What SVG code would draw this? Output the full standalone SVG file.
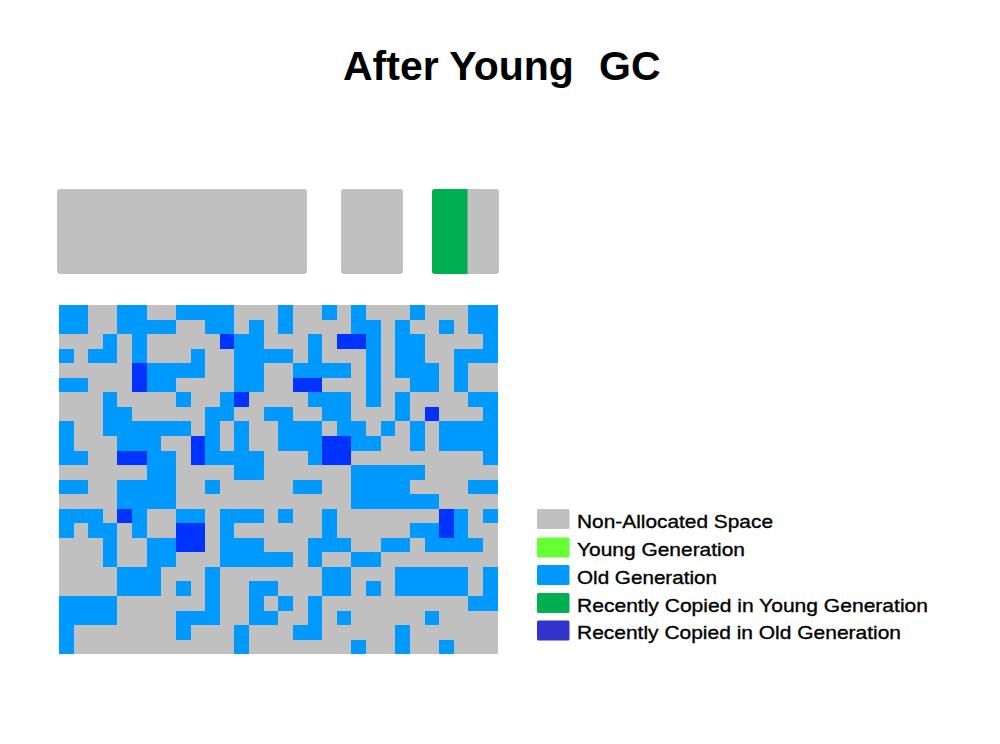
<svg xmlns="http://www.w3.org/2000/svg" width="1000" height="744" viewBox="0 0 1000 744">
<style>
.g{fill:#C0C0C0}
.b{fill:#0099FF}
.d{fill:#0033FF}
.title{font-family:"Liberation Sans",Arial,sans-serif;font-weight:bold;font-size:41px;fill:#000}
.lt{font-family:"Liberation Sans",Arial,sans-serif;font-size:19px;fill:#000;stroke:#000;stroke-width:0.35}
</style>
<defs>
<clipPath id="barclip"><rect x="432" y="189" width="67" height="85" rx="3"/></clipPath>
</defs>
<rect width="1000" height="744" fill="#FFFFFF"/>
<g id="title"><text class="title" x="343" y="80">After Young <tspan x="599">GC</tspan></text></g>
<g id="heap-bars">
<rect id="eden" class="g" x="57" y="189" width="250" height="85" rx="3"/>
<rect id="survivor-from" class="g" x="341" y="189" width="62" height="85" rx="3"/>
<g id="survivor-to" clip-path="url(#barclip)">
<rect class="g" x="432" y="189" width="67" height="85"/>
<rect x="432" y="189" width="35.5" height="85" fill="#00B050"/>
</g>
</g>
<g id="heap-grid" transform="translate(59 305) scale(14.62 14.55)" shape-rendering="crispEdges">
<rect class="g" x="0" y="0" width="30" height="24"/>
<g class="b">
<rect x="0" y="0" width="2" height="1"/><rect x="4" y="0" width="2" height="1"/><rect x="8" y="0" width="4" height="1"/><rect x="15" y="0" width="1" height="1"/><rect x="18" y="0" width="1" height="1"/><rect x="20" y="0" width="1" height="1"/><rect x="24" y="0" width="1" height="1"/><rect x="28" y="0" width="2" height="1"/>
<rect x="0" y="1" width="2" height="1"/><rect x="4" y="1" width="4" height="1"/><rect x="10" y="1" width="2" height="1"/><rect x="13" y="1" width="1" height="1"/><rect x="15" y="1" width="1" height="1"/><rect x="20" y="1" width="2" height="1"/><rect x="23" y="1" width="1" height="1"/><rect x="26" y="1" width="1" height="1"/><rect x="28" y="1" width="2" height="1"/>
<rect x="3" y="2" width="1" height="1"/><rect x="5" y="2" width="1" height="1"/><rect x="12" y="2" width="2" height="1"/><rect x="17" y="2" width="1" height="1"/><rect x="21" y="2" width="1" height="1"/><rect x="23" y="2" width="2" height="1"/><rect x="29" y="2" width="1" height="1"/>
<rect x="0" y="3" width="1" height="1"/><rect x="2" y="3" width="2" height="1"/><rect x="5" y="3" width="1" height="1"/><rect x="9" y="3" width="1" height="1"/><rect x="12" y="3" width="4" height="1"/><rect x="17" y="3" width="1" height="1"/><rect x="21" y="3" width="1" height="1"/><rect x="23" y="3" width="2" height="1"/><rect x="27" y="3" width="3" height="1"/>
<rect x="6" y="4" width="4" height="1"/><rect x="12" y="4" width="2" height="1"/><rect x="16" y="4" width="4" height="1"/><rect x="21" y="4" width="1" height="1"/><rect x="23" y="4" width="3" height="1"/><rect x="27" y="4" width="1" height="1"/>
<rect x="0" y="5" width="2" height="1"/><rect x="6" y="5" width="2" height="1"/><rect x="12" y="5" width="2" height="1"/><rect x="21" y="5" width="1" height="1"/><rect x="24" y="5" width="2" height="1"/><rect x="27" y="5" width="1" height="1"/>
<rect x="3" y="6" width="1" height="1"/><rect x="8" y="6" width="1" height="1"/><rect x="11" y="6" width="1" height="1"/><rect x="17" y="6" width="3" height="1"/><rect x="21" y="6" width="1" height="1"/><rect x="23" y="6" width="1" height="1"/><rect x="28" y="6" width="2" height="1"/>
<rect x="3" y="7" width="2" height="1"/><rect x="10" y="7" width="2" height="1"/><rect x="14" y="7" width="2" height="1"/><rect x="18" y="7" width="2" height="1"/><rect x="23" y="7" width="1" height="1"/><rect x="29" y="7" width="1" height="1"/>
<rect x="0" y="8" width="1" height="1"/><rect x="3" y="8" width="6" height="1"/><rect x="10" y="8" width="1" height="1"/><rect x="12" y="8" width="1" height="1"/><rect x="15" y="8" width="3" height="1"/><rect x="19" y="8" width="2" height="1"/><rect x="22" y="8" width="1" height="1"/><rect x="24" y="8" width="1" height="1"/><rect x="26" y="8" width="4" height="1"/>
<rect x="0" y="9" width="1" height="1"/><rect x="4" y="9" width="3" height="1"/><rect x="10" y="9" width="1" height="1"/><rect x="12" y="9" width="1" height="1"/><rect x="15" y="9" width="3" height="1"/><rect x="20" y="9" width="2" height="1"/><rect x="24" y="9" width="1" height="1"/><rect x="26" y="9" width="4" height="1"/>
<rect x="0" y="10" width="2" height="1"/><rect x="6" y="10" width="2" height="1"/><rect x="10" y="10" width="4" height="1"/><rect x="17" y="10" width="1" height="1"/><rect x="29" y="10" width="1" height="1"/>
<rect x="6" y="11" width="2" height="1"/><rect x="12" y="11" width="2" height="1"/><rect x="20" y="11" width="5" height="1"/>
<rect x="0" y="12" width="2" height="1"/><rect x="4" y="12" width="4" height="1"/><rect x="10" y="12" width="1" height="1"/><rect x="16" y="12" width="2" height="1"/><rect x="20" y="12" width="4" height="1"/><rect x="28" y="12" width="2" height="1"/>
<rect x="4" y="13" width="4" height="1"/><rect x="20" y="13" width="6" height="1"/>
<rect x="0" y="14" width="3" height="1"/><rect x="5" y="14" width="1" height="1"/><rect x="8" y="14" width="2" height="1"/><rect x="11" y="14" width="3" height="1"/><rect x="15" y="14" width="1" height="1"/><rect x="18" y="14" width="1" height="1"/><rect x="27" y="14" width="1" height="1"/><rect x="29" y="14" width="1" height="1"/>
<rect x="0" y="15" width="1" height="1"/><rect x="2" y="15" width="2" height="1"/><rect x="5" y="15" width="1" height="1"/><rect x="11" y="15" width="1" height="1"/><rect x="18" y="15" width="1" height="1"/><rect x="24" y="15" width="2" height="1"/><rect x="27" y="15" width="1" height="1"/>
<rect x="3" y="16" width="1" height="1"/><rect x="6" y="16" width="2" height="1"/><rect x="11" y="16" width="3" height="1"/><rect x="17" y="16" width="3" height="1"/><rect x="22" y="16" width="2" height="1"/><rect x="25" y="16" width="4" height="1"/>
<rect x="3" y="17" width="1" height="1"/><rect x="6" y="17" width="2" height="1"/><rect x="11" y="17" width="5" height="1"/><rect x="17" y="17" width="1" height="1"/><rect x="20" y="17" width="2" height="1"/>
<rect x="4" y="18" width="3" height="1"/><rect x="10" y="18" width="1" height="1"/><rect x="18" y="18" width="2" height="1"/><rect x="23" y="18" width="5" height="1"/><rect x="29" y="18" width="1" height="1"/>
<rect x="4" y="19" width="3" height="1"/><rect x="8" y="19" width="1" height="1"/><rect x="10" y="19" width="1" height="1"/><rect x="13" y="19" width="2" height="1"/><rect x="18" y="19" width="2" height="1"/><rect x="21" y="19" width="1" height="1"/><rect x="23" y="19" width="5" height="1"/><rect x="29" y="19" width="1" height="1"/>
<rect x="0" y="20" width="4" height="1"/><rect x="10" y="20" width="1" height="1"/><rect x="13" y="20" width="1" height="1"/><rect x="15" y="20" width="1" height="1"/><rect x="17" y="20" width="1" height="1"/><rect x="28" y="20" width="2" height="1"/>
<rect x="0" y="21" width="4" height="1"/><rect x="8" y="21" width="3" height="1"/><rect x="13" y="21" width="2" height="1"/><rect x="17" y="21" width="1" height="1"/><rect x="19" y="21" width="1" height="1"/><rect x="25" y="21" width="1" height="1"/>
<rect x="0" y="22" width="1" height="1"/><rect x="8" y="22" width="1" height="1"/><rect x="12" y="22" width="1" height="1"/><rect x="16" y="22" width="2" height="1"/><rect x="23" y="22" width="1" height="1"/>
<rect x="0" y="23" width="1" height="1"/><rect x="12" y="23" width="1" height="1"/><rect x="20" y="23" width="1" height="1"/><rect x="23" y="23" width="1" height="1"/><rect x="26" y="23" width="1" height="1"/>
</g>
<g class="d">
<rect x="11" y="2" width="1" height="1"/><rect x="19" y="2" width="2" height="1"/>
<rect x="5" y="4" width="1" height="2"/><rect x="16" y="5" width="2" height="1"/>
<rect x="12" y="6" width="1" height="1"/><rect x="25" y="7" width="1" height="1"/>
<rect x="9" y="9" width="1" height="2"/><rect x="18" y="9" width="2" height="2"/><rect x="4" y="10" width="2" height="1"/>
<rect x="4" y="14" width="1" height="1"/><rect x="26" y="14" width="1" height="2"/>
<rect x="8" y="15" width="2" height="2"/>
</g>
</g>
<g id="legend">
<g id="legend-nonalloc"><rect class="g" x="537" y="509" width="32.5" height="20" rx="1.5"/><text class="lt" x="577" y="527.5" textLength="196" lengthAdjust="spacingAndGlyphs">Non-Allocated Space</text></g>
<g id="legend-young"><rect x="537" y="537.5" width="32.5" height="20" rx="1.5" fill="#66FF33"/><text class="lt" x="577" y="556" textLength="168" lengthAdjust="spacingAndGlyphs">Young Generation</text></g>
<g id="legend-old"><rect class="b" x="537" y="565" width="32.5" height="20" rx="1.5"/><text class="lt" x="577" y="583.5" textLength="140" lengthAdjust="spacingAndGlyphs">Old Generation</text></g>
<g id="legend-copied-young"><rect x="537" y="593" width="32.5" height="20" rx="1.5" fill="#00B050"/><text class="lt" x="577" y="611.5" textLength="351" lengthAdjust="spacingAndGlyphs">Recently Copied in Young Generation</text></g>
<g id="legend-copied-old"><rect x="537" y="620.5" width="32.5" height="20" rx="1.5" fill="#3333CC"/><text class="lt" x="577" y="639" textLength="324" lengthAdjust="spacingAndGlyphs">Recently Copied in Old Generation</text></g>
</g>
</svg>
